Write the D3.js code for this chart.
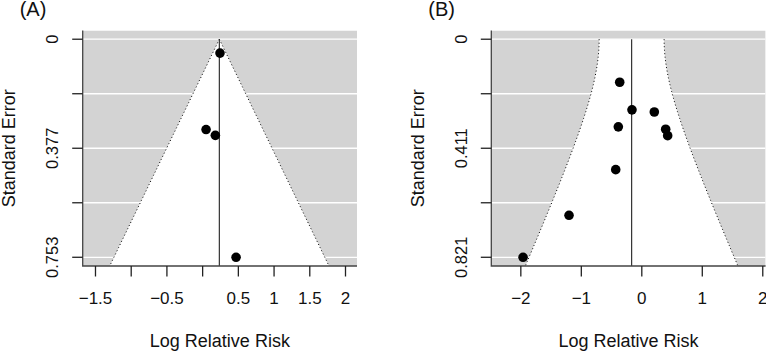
<!DOCTYPE html>
<html>
<head>
<meta charset="utf-8">
<script src="https://cdn.jsdelivr.net/npm/d3@7"></script>
<style>
	body { margin: 0; background: #fff; }
	svg { display: block; font-family: "Liberation Sans", Arial, sans-serif; }
</style>
</head>
<body>
<svg id="chart" width="766" height="353"></svg>
<script>
// panel A data
var yiA = [0.25, 0.055, 0.185, 0.475];
var seA = [0.048, 0.312, 0.332, 0.753];
var estA = 0.241;
var tauA = 0;
var xTicksA = [-1.5, -1, -0.5, 0, 0.5, 1, 1.5, 2];
var xLabelsA = ["\u22121.5", "", "\u22120.5", "", "0.5", "1", "1.5", "2"];
var yLabelsA = ["0", "", "0.377", "", "0.753"];

// panel B data
var yiB = [-0.357, -0.154, 0.215, -0.380, 0.403, 0.436, -0.423, -1.195, -1.955];
var seB = [0.162, 0.266, 0.274, 0.330, 0.339, 0.363, 0.491, 0.663, 0.821];
var estB = -0.16;
var tauB = 0.274;
var xTicksB = [-2, -1, 0, 1, 2];
var xLabelsB = ["\u22122", "\u22121", "0", "1", "2"];
var yLabelsB = ["0", "", "0.411", "", "0.821"];

var svg = d3.select("#chart");

function funnel(opt) {
	var left = opt.left, right = left + 274.3, top = 30.5, bottom = 266;
	var seMax = d3.max(opt.se);
	var pad = 0.04 * seMax;

	var x = d3.scaleLinear().domain(opt.xdom).range([left, right]);
	var y = d3.scaleLinear().domain([-pad, seMax + pad]).range([top, bottom]);
	var yTicks = d3.range(5).map(function(i) { return seMax * i / 4; });

	var g = svg.append("g");
	var clipId = "clip" + opt.id;
	svg.append("clipPath").attr("id", clipId)
		.append("rect").attr("x", left).attr("y", top)
		.attr("width", right - left).attr("height", bottom - top);
	var pg = g.append("g").attr("clip-path", "url(#" + clipId + ")");

	// grey background + white grid lines
	pg.append("rect")
		.attr("x", left).attr("y", top)
		.attr("width", right - left).attr("height", bottom - top)
		.attr("fill", "#d3d3d3");
	pg.selectAll("line.grid")
		.data(yTicks)
		.enter().append("line")
		.attr("x1", left).attr("x2", right)
		.attr("y1", y).attr("y2", y)
		.attr("stroke", "#fff").attr("stroke-width", 1.3);

	// pseudo confidence region
	var seBot = seMax + pad;
	var ses = d3.range(0, 101).map(function(i) { return seBot * i / 100; });
	function half(s) { return 1.96 * Math.sqrt(s * s + opt.tau * opt.tau); }
	var lo = ses.map(function(s) { return [x(opt.est - half(s)), y(s)]; });
	var hi = ses.map(function(s) { return [x(opt.est + half(s)), y(s)]; });
	var poly = lo.concat(hi.slice().reverse());
	pg.append("path")
		.attr("d", d3.line()(poly) + "Z")
		.attr("fill", "#fff");
	[lo, hi].forEach(function(pts) {
		pg.append("path")
			.attr("d", d3.line()(pts))
			.attr("fill", "none")
			.attr("stroke", "#000")
			.attr("stroke-width", 1)
			.attr("stroke-dasharray", "1,2.5");
	});

	// estimate line
	pg.append("line")
		.attr("x1", x(opt.est)).attr("x2", x(opt.est))
		.attr("y1", y(0)).attr("y2", bottom)
		.attr("stroke", "#333").attr("stroke-width", 1.2);

	// studies
	pg.selectAll("circle")
		.data(opt.yi)
		.enter().append("circle")
		.attr("cx", function(d) { return x(d); })
		.attr("cy", function(d, i) { return y(opt.se[i]); })
		.attr("r", 4.8)
		.attr("fill", "#000");

	// L-shaped box
	g.append("path")
		.attr("d", "M" + left + "," + top + "V" + bottom + "H" + right)
		.attr("fill", "none").attr("stroke", "#444").attr("stroke-width", 1.3);

	// x axis
	var xa = g.append("g").attr("transform", "translate(0," + bottom + ")")
		.call(d3.axisBottom(x).tickValues(opt.xticks).tickSize(10.5).tickPadding(15)
			.tickFormat(function(d, i) { return opt.xlabels[i]; }));
	xa.select(".domain").remove();
	xa.selectAll("line").attr("stroke", "#222").attr("stroke-width", 1.3);
	xa.selectAll("text").attr("font-size", 17).attr("fill", "#111")
		.attr("font-family", "Liberation Sans, Arial, sans-serif");

	// y axis (rotated labels as in R)
	var ya = g.append("g").attr("transform", "translate(" + left + ",0)");
	ya.selectAll("line")
		.data(yTicks)
		.enter().append("line")
		.attr("x1", -10.5).attr("x2", 0)
		.attr("y1", y).attr("y2", y)
		.attr("stroke", "#222").attr("stroke-width", 1.3);
	ya.selectAll("text")
		.data(yTicks)
		.enter().append("text")
		.attr("transform", function(d) { return "translate(-24.5," + y(d) + ") rotate(-90)"; })
		.attr("text-anchor", "middle")
		.attr("font-size", 16.5)
		.attr("fill", "#111")
		.text(function(d, i) { return opt.ylabels[i]; });

	// titles
	g.append("text")
		.attr("transform", "translate(" + (left - 67.5) + "," + ((top + bottom) / 2) + ") rotate(-90)")
		.attr("text-anchor", "middle")
		.attr("font-size", 18)
		.attr("fill", "#111")
		.text("Standard Error");
	g.append("text")
		.attr("x", (left + right) / 2).attr("y", 347)
		.attr("text-anchor", "middle")
		.attr("font-size", 18)
		.attr("fill", "#111")
		.text("Log Relative Risk");
	g.append("text")
		.attr("x", left - 63).attr("y", 16)
		.attr("font-size", 20)
		.attr("fill", "#111")
		.text(opt.name);
}

funnel({ id: "A", name: "(A)", left: 82.7, xdom: [-1.672, 2.168], yi: yiA, se: seA, est: estA, tau: tauA,
	xticks: xTicksA, xlabels: xLabelsA, ylabels: yLabelsA });
funnel({ id: "B", name: "(B)", left: 491.3, xdom: [-2.48, 2.055], yi: yiB, se: seB, est: estB, tau: tauB,
	xticks: xTicksB, xlabels: xLabelsB, ylabels: yLabelsB });
</script>
</body>
</html>
